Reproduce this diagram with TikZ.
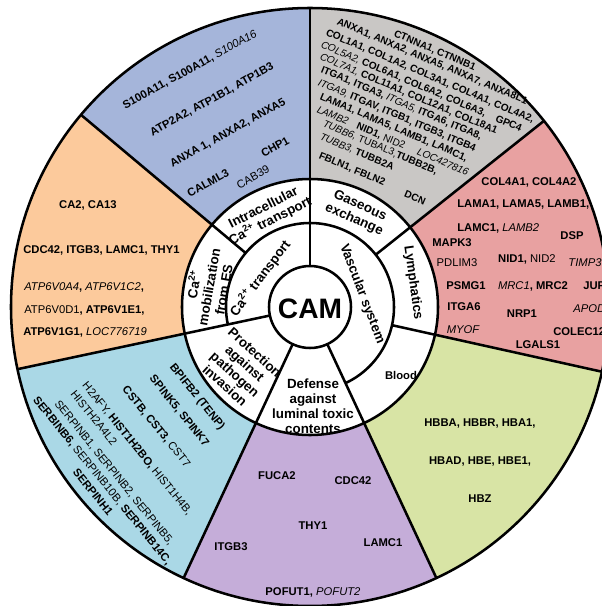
\documentclass[tikz,border=0pt]{standalone}
\usepackage{fontspec}
\setmainfont{Liberation Sans}
\usetikzlibrary{positioning}

\definecolor{bleucal}{RGB}{165,181,218}
\definecolor{orangemob}{RGB}{252,202,156}
\definecolor{cyanprot}{RGB}{170,216,230}
\definecolor{violetdef}{RGB}{197,173,217}
\definecolor{vertsang}{RGB}{216,228,165}
\definecolor{roselymph}{RGB}{232,161,161}
\definecolor{grisgaz}{RGB}{201,199,197}

\tikzstyle{trait}=[line width=1.8pt]
\tikzstyle{gene}=[inner sep=0pt, font=\fontsize{8}{9}\selectfont\bfseries]
\tikzstyle{genepetit}=[inner sep=0pt, anchor=base west, rotate=-23, font=\fontsize{7.2}{8.2}\selectfont\bfseries]
\tikzstyle{fonction}=[inner sep=0pt, align=center, font=\fontsize{9.5}{10.6}\selectfont\bfseries]

\newcommand{\geneit}[1]{{\mdseries\itshape #1}}
\newcommand{\generg}[1]{{\mdseries #1}}

\begin{document}
\begin{tikzpicture}[x=0.025cm, y=0.025cm]
    \useasboundingbox (-310,-299) rectangle (292,307);
    \fill[white] (-310,-299) rectangle (292,307);

    \foreach \debut/\fin/\couleur in {90/140/bleucal, 140/192/orangemob, 192/245/cyanprot, 245/295/violetdef, 295/347.5/vertsang, 347.5/398.5/roselymph, 38.5/90/grisgaz}
        \fill[\couleur] (\debut:128) arc[start angle=\debut, end angle=\fin, radius=128]
            -- (\fin:299) arc[start angle=\fin, end angle=\debut, radius=299] -- cycle;

    \draw[trait] (0,0) circle[radius=299];
    \draw[trait] (0,0) circle[radius=128];
    \draw[trait] (192:84) arc[start angle=192, end angle=-65, radius=84];
    \foreach \a/\r in {90/41, 140/84, 192/41, 245/41, 295/41, 347.5/84, 38.5/84}
        \draw[trait] (\a:\r) -- (\a:299);
    \draw[trait] (0,0) circle[radius=41];

    \node[font=\fontsize{20}{24}\selectfont\bfseries] (cam) at (0,-2) {CAM};

    \node[fonction, rotate=53] (transport) at (-50,29) {Ca\textsuperscript{2+} transport};
    \node[fonction, rotate=-69] (vasc) at (52,13) {Vascular system};
    \node[fonction, rotate=27] (intra) at (-43,92) {Intracellular\\Ca\textsuperscript{2+} transport};
    \node[fonction, rotate=80] (mobil) at (-102,20) {Ca\textsuperscript{2+}\\mobilization\\from ES};
    \node[fonction, rotate=-24] (gaz) at (47,94) {Gaseous\\exchange};
    \node[fonction, rotate=-82] (lymph) at (103,24) {Lymphatics};
    \node[fonction, font=\fontsize{8}{9}\selectfont\bfseries] (sang) at (91,-68) {Blood};
    \node[fonction, rotate=-42] (protec) at (-70,-62) {Protection\\against\\pathogen\\invasion};
    \node[fonction] (defense) at (3,-99) {Defense\\against\\luminal toxic\\contents};

    \node[gene, rotate=29] (b1) at (-120,237) {S100A11, S100A11, \geneit{S100A16}};
    \node[gene, rotate=29] (b2) at (-98,207) {ATP2A2, ATP1B1, ATP1B3};
    \node[gene, rotate=29] (b3) at (-82,174) {ANXA 1, ANXA2, ANXA5};
    \node[gene, rotate=29] (b4) at (-35,160) {CHP1};
    \node[gene, rotate=29] (b5) at (-102,124) {CALML3};
    \node[gene, rotate=29] (b6) at (-57,130) {\generg{CAB39}};

    \node[gene] (o1) at (-222,102) {CA2, CA13};
    \node[gene, anchor=west] (o2) at (-287,57) {CDC42, ITGB3, LAMC1, THY1};
    \node[gene, anchor=west] (o3) at (-286,20) {\geneit{ATP6V0A4}, \geneit{ATP6V1C2},};
    \node[gene, anchor=west] (o4) at (-286,-3) {\generg{ATP6V0D1}, ATP6V1E1,};
    \node[gene, anchor=west] (o5) at (-287,-25) {ATP6V1G1, \geneit{LOC776719}};

    \node[gene, rotate=-51] (c1) at (-113,-90) {BPIFB2 (TENP)};
    \node[gene, rotate=-51] (c2) at (-131,-104) {SPINK5, SPINK7};
    \node[gene, rotate=-51] (c3) at (-154,-120) {CSTB, CST3, \generg{CST7}};
    \node[gene, rotate=-51] (c4) at (-173,-142) {\generg{H2AFY,} HIST1H2BO, \generg{HIST1H4B,}};
    \node[gene, rotate=-51] (c5) at (-216,-111) {\generg{HISTH2A4L2}};
    \node[gene, rotate=-51] (c6) at (-196,-166) {\generg{SERPINB1, SERPINB2, SERPINB5,}};
    \node[gene, rotate=-51] (c7) at (-208,-174) {SERBINB6, \generg{SERPINB10B,} SERPINB14C,};
    \node[gene, rotate=-51] (c8) at (-217,-185) {SERPINH1};

    \node[gene] (v1) at (-33,-169) {FUCA2};
    \node[gene] (v2) at (43,-174) {CDC42};
    \node[gene] (v3) at (3,-219) {THY1};
    \node[gene] (v4) at (-79,-240) {ITGB3};
    \node[gene] (v5) at (73,-236) {LAMC1};
    \node[gene] (v6) at (3,-285) {POFUT1, \geneit{POFUT2}};

    \node[gene] (h1) at (170,-116) {HBBA, HBBR, HBA1,};
    \node[gene] (h2) at (170,-154) {HBAD, HBE, HBE1,};
    \node[gene] (h3) at (170,-192) {HBZ};

    \node[gene] (l1) at (219,125) {COL4A1, COL4A2};
    \node[gene, anchor=west] (l2) at (147,102) {LAMA1, LAMA5, LAMB1,};
    \node[gene, anchor=west] (l3) at (147,79) {LAMC1, \geneit{LAMB2}};
    \node[gene] (l4) at (262,71) {DSP};
    \node[gene] (l5) at (142,64) {MAPK3};
    \node[gene] (l6) at (147,44) {\generg{PDLIM3}};
    \node[gene] (l7) at (217,48) {NID1, \generg{NID2}};
    \node[gene] (l8) at (275,44) {\geneit{TIMP3}};
    \node[gene] (l9) at (156,21) {PSMG1};
    \node[gene] (l10) at (223,21) {\geneit{MRC1}, MRC2};
    \node[gene, anchor=west] (l11) at (273,21) {JUP};
    \node[gene] (l12) at (154,0) {ITGA6};
    \node[gene] (l13) at (212,-7) {NRP1};
    \node[gene, anchor=west] (l14) at (263,-2) {\geneit{APOD}};
    \node[gene] (l15) at (153,-23) {\geneit{MYOF}};
    \node[gene, anchor=west] (l16) at (243,-25) {COLEC12};
    \node[gene] (l17) at (228,-38) {LGALS1};

    \node[genepetit] (g1) at (83,271) {CTNNA1, CTNNB1};
    \node[genepetit] (g2) at (26,283) {ANXA1, ANXA2, ANXA5, ANXA7, ANXA8L1};
    \node[genepetit] (g3) at (15,272) {COL1A1, COL1A2, COL3A1, COL4A1, COL4A2,};
    \node[genepetit] (g4) at (10,260) {\geneit{COL5A2,} COL6A1, COL6A2, COL6A3,\hspace{6pt} GPC4};
    \node[genepetit] (g5) at (9,248) {\geneit{COL7A1,} COL11A1, COL12A1, COL18A1};
    \node[genepetit] (g6) at (10,235) {ITGA1, ITGA3, \geneit{ITGA5,} ITGA6, ITGA8,};
    \node[genepetit] (g7) at (7,222) {\geneit{ITGA9,} ITGAV, ITGB1, ITGB3, ITGB4};
    \node[genepetit] (g8) at (9,208) {LAMA1, LAMA5, LAMB1, LAMC1,};
    \node[genepetit] (g9) at (6,195) {\geneit{LAMB2}\hspace{5pt} NID1, \generg{NID2}\hspace{8pt} \geneit{LOC427816}};
    \node[genepetit] (g10) at (12,181) {\geneit{TUBB6,} \generg{TUBAL3,}TUBB2B,};
    \node[genepetit] (g11) at (9,168) {\geneit{TUBB3,} TUBB2A};
    \node[genepetit] (g12) at (8,149) {FBLN1, FBLN2};
    \node[genepetit, anchor=center] (g13) at (105,109) {DCN};

\end{tikzpicture}
\end{document}
